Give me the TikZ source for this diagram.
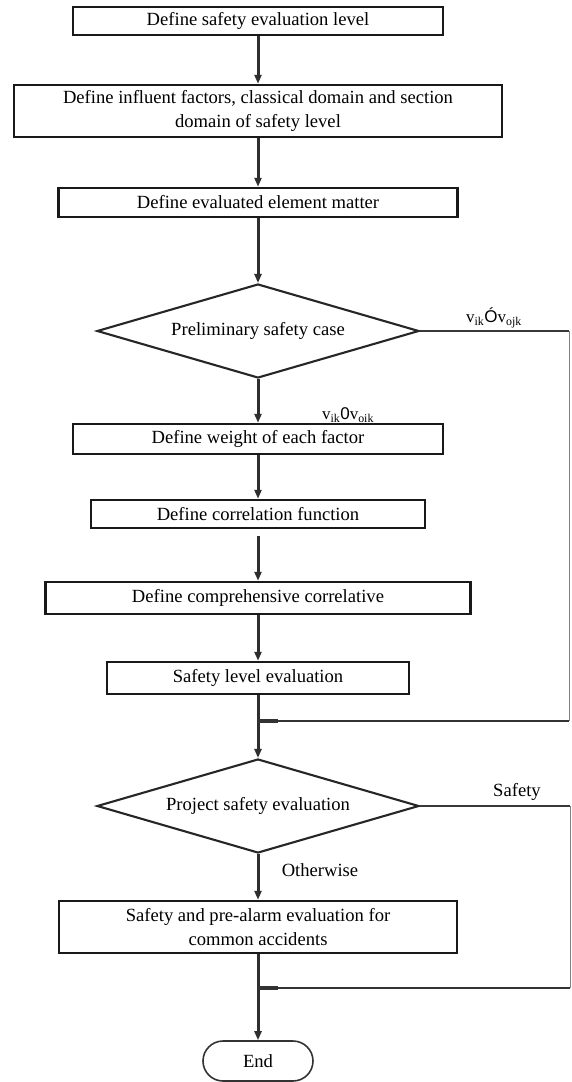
\documentclass[tikz,border=0pt]{standalone}
\usepackage{fontspec}
\setmainfont{Liberation Serif}
\newfontfamily\labsans{Liberation Sans}
\usetikzlibrary{shapes.geometric,shapes.misc,arrows.meta}
\begin{document}
\begin{tikzpicture}[x=1pt,y=-1pt,
  font=\fontsize{18.6}{24}\selectfont,
  procbox/.style={draw=black!90,line width=2.5pt,rectangle,inner sep=0pt,align=center,fill=white},
  decbox/.style={draw=black!85,line width=2.1pt,diamond,aspect=3.43,inner sep=0pt,minimum width=322pt,minimum height=94pt,align=center},
  endbox/.style={draw=black!80,line width=1.6pt,rounded rectangle,inner sep=0pt,minimum width=110pt,minimum height=40pt},
  flow/.style={draw=black!82,line width=3pt,-{Triangle[length=9pt,width=7pt]}},
  plain/.style={draw=black!82,line width=3pt},
  outline/.style={draw=black!78,line width=1.8pt},
  sideline/.style={draw=black!50,line width=1pt},
  joinline/.style={draw=black!80,line width=1.5pt,-{Rectangle[length=20pt,width=4.5pt]}},
  lab/.style={inner sep=0pt},
  smalllab/.style={inner sep=0pt,font=\fontsize{17}{17}\selectfont}]
\useasboundingbox (0,0) rectangle (571,1082);
\fill[white] (0,0) rectangle (571,1082);

\node[procbox,minimum width=370pt,minimum height=28pt] (b1) at (258,21) {Define safety evaluation level};
\node[procbox,minimum width=488pt,minimum height=52pt] (b2) at (258,111) {Define influent factors, classical domain and section\\domain of safety level};
\node[procbox,minimum width=399pt,minimum height=29pt] (b3) at (258,202.5) {Define evaluated element matter};
\node[decbox] (d1) at (258,331) {Preliminary safety case};
\node[procbox,minimum width=370pt,minimum height=30pt] (b4) at (258,439) {Define weight of each factor};
\node[procbox,minimum width=334pt,minimum height=28pt] (b5) at (258,514) {Define correlation function};
\node[procbox,minimum width=425pt,minimum height=32pt] (b6) at (258,598) {Define comprehensive correlative};
\node[procbox,minimum width=302pt,minimum height=32pt] (b7) at (258,678) {Safety level evaluation};
\node[decbox] (d2) at (258,806) {Project safety evaluation};
\node[procbox,minimum width=398pt,minimum height=52pt] (b8) at (258,927) {Safety and pre-alarm evaluation for\\common accidents};
\node[endbox] (end) at (258,1061) {End};

\coordinate (j1) at (258,721);
\coordinate (j2) at (258,988);
\coordinate (r1) at (569,331);
\coordinate (r2) at (569,721);
\coordinate (r3) at (570,806);
\coordinate (r4) at (570,988);

\draw[flow] (b1.south) -- (b2.north);
\draw[flow] (b2.south) -- (b3.north);
\draw[flow] (b3.south) -- (d1.north);
\draw[flow] (d1.south) -- (b4.north);
\draw[flow] (b4.south) -- (b5.north);
\draw[flow] ([yshift=-7pt]b5.south) -- (b6.north);
\draw[flow] (b6.south) -- (b7.north);
\draw[plain] (b7.south) -- (j1);
\draw[flow] (j1) -- (d2.north);
\draw[flow] (d2.south) -- (b8.north);
\draw[plain] (b8.south) -- (j2);
\draw[flow] (j2) -- (end.north);

\draw[outline] (d1.east) -- (r1);
\draw[sideline] (r1) -- (r2);
\draw[joinline] (r2) -- (j1);
\draw[outline] (d2.east) -- (r3);
\draw[sideline] (r3) -- (r4);
\draw[joinline] (r4) -- (j2);

\node[smalllab] (l1) at (494,318) {v\textsubscript{ik}{\labsans Ó}v\textsubscript{ojk}};
\node[smalllab] (l2) at (348,415) {v\textsubscript{ik}{\labsans 0}v\textsubscript{oik}};
\node[lab] (l3) at (517,792) {Safety};
\node[lab] (l4) at (320,870) {Otherwise};
\end{tikzpicture}
\end{document}
